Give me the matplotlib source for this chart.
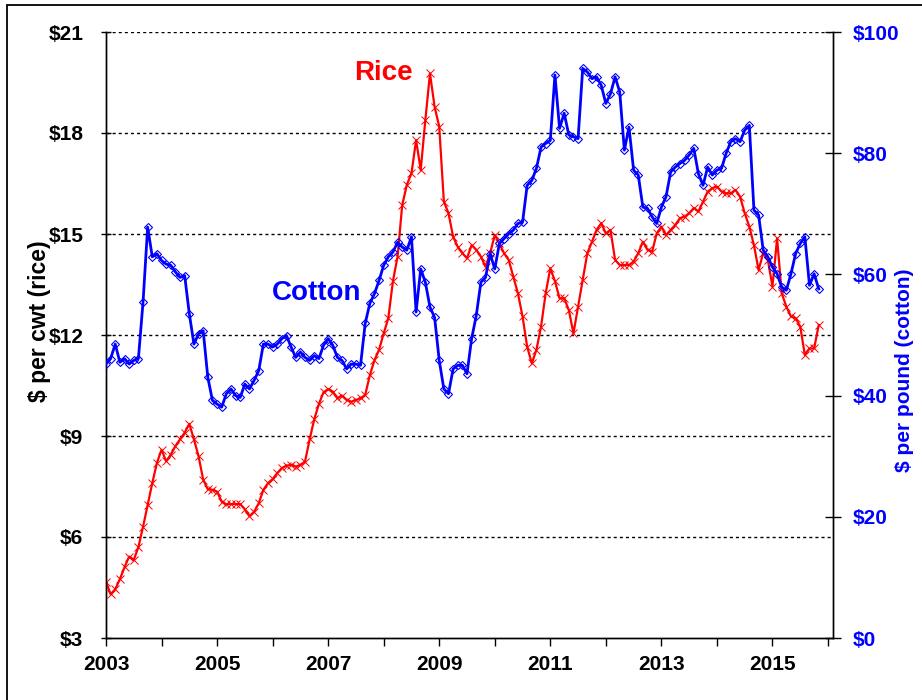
import numpy as np
import matplotlib
matplotlib.use("Agg")
import matplotlib.pyplot as plt
from matplotlib.patches import Rectangle

# monthly series, Jan 2003 onward
start_year = 2003
rice_cwt = [
    4.67, 4.30, 4.45, 4.75, 5.10, 5.42, 5.32, 5.70, 6.30, 6.95, 7.60, 8.20,
    8.59, 8.25, 8.45, 8.70, 8.90, 9.10, 9.36, 8.90, 8.40, 7.70, 7.42, 7.40,
    7.35, 7.05, 6.97, 6.98, 6.98, 6.98, 6.82, 6.62, 6.75, 7.00, 7.40, 7.60,
    7.72, 7.90, 8.05, 8.12, 8.14, 8.09, 8.14, 8.24, 8.90, 9.50, 9.95, 10.30,
    10.39, 10.32, 10.12, 10.20, 10.07, 10.02, 10.07, 10.12, 10.22, 10.80, 11.25, 11.56,
    12.05, 12.50, 13.60, 14.33, 15.86, 16.46, 16.80, 17.79, 16.90, 18.39, 19.77, 18.78,
    18.19, 15.96, 15.62, 14.92, 14.62, 14.43, 14.28, 14.67, 14.53, 14.33, 14.03, 14.43,
    14.97, 14.72, 14.43, 14.23, 13.73, 13.24, 12.55, 11.65, 11.16, 11.56, 12.25, 13.24,
    13.98, 13.60, 13.09, 13.09, 12.74, 12.05, 12.84, 13.63,
    14.43, 14.77, 15.12, 15.32, 15.02, 15.12, 14.23, 14.08, 14.08, 14.08, 14.18, 14.43,
    14.77, 14.53, 14.48, 15.02, 15.22, 14.97, 15.12, 15.27, 15.47, 15.51, 15.62, 15.77,
    15.67, 15.96, 16.26, 16.36, 16.41, 16.26, 16.21, 16.21, 16.31, 16.11, 15.62, 15.22,
    14.67, 13.93, 14.43, 14.23, 13.44, 14.87, 13.24, 12.84, 12.55, 12.50, 12.25, 11.41,
    11.60, 11.60, 12.30,
]
cotton_lb = [
    45.2, 46.1, 48.5, 45.5, 46.1, 45.2, 45.8, 46.1, 55.4, 67.8, 62.9, 63.4,
    62.3, 61.7, 61.5, 60.4, 59.5, 59.8, 53.5, 48.5, 50.2, 50.7, 43.0, 39.2,
    38.6, 38.1, 40.3, 41.1, 40.0, 39.7, 41.9, 41.1, 42.5, 44.1, 48.5, 48.5,
    48.0, 48.5, 49.4, 49.9, 48.0, 46.3, 47.2, 46.3, 45.8, 46.6, 46.1, 48.3,
    49.4, 48.3, 46.3, 45.8, 44.4, 45.2, 45.2, 45.0, 51.9, 55.2, 56.8, 59.0,
    61.5, 62.9, 63.7, 65.3, 64.5, 64.0, 66.2, 53.8, 60.9, 58.7, 54.6, 52.9,
    45.8, 41.1, 40.3, 44.4, 45.0, 45.0, 43.6, 49.4, 53.2, 58.7, 59.5, 63.4,
    60.9, 65.1, 65.9, 66.7, 67.3, 68.4, 68.6, 74.7, 75.5, 77.5, 81.0, 81.6,
    82.1, 92.9, 84.1, 86.6, 83.0, 82.7, 82.4, 94.0, 93.4, 92.3, 92.6, 91.2,
    88.2, 89.8, 92.6, 90.1, 80.5, 84.3, 77.2, 76.4, 71.1, 70.9, 69.5, 68.4,
    71.1, 72.8, 76.9, 77.7, 78.3, 78.8, 79.7, 80.8, 76.6, 74.7, 77.7, 76.4,
    77.2, 77.5, 80.0, 81.9, 82.4, 81.9, 83.8, 84.6, 70.6, 69.8, 64.0, 62.9,
    61.2, 60.1, 57.9, 57.4, 60.1, 63.4, 65.1, 66.2, 58.2, 60.1, 57.6,
]
rice_ticks = [3, 6, 9, 12, 15, 18, 21]
cotton_ticks = [0, 20, 40, 60, 80, 100]
year_ticks = list(range(2003, 2017))

plt.rcParams['font.family'] = ['Liberation Sans', 'DejaVu Sans']
plt.rcParams['font.weight'] = 'bold'

RED = '#ff0000'
BLUE = '#0000ff'

x_rice = start_year + np.arange(len(rice_cwt)) / 12.0
x_cot = start_year + np.arange(len(cotton_lb)) / 12.0

fig = plt.figure(figsize=(9.22, 7.0), dpi=100)
ax = fig.add_axes([106 / 922, 1 - 638 / 700, (833 - 106) / 922, (638 - 32) / 700])
ax2 = ax.twinx()

# outer frame
fig.patches.append(Rectangle((7 / 922, -0.05), 1.2, 1 - 5 / 700 + 0.05,
                             transform=fig.transFigure, fill=False,
                             edgecolor='black', linewidth=1.3, clip_on=False))

ax.set_ylim(3, 21)
ax.set_xlim(2003, 2016.09)
ax.set_yticks(rice_ticks)
ax.set_yticklabels([f'${v}' for v in rice_ticks])
for v in rice_ticks[1:]:
    ax.axhline(v, color='black', linewidth=1.0, linestyle=(0, (2.2, 2.2)), zorder=1)

ax.set_xticks(year_ticks)
ax.set_xticklabels([str(y) if y % 2 == 1 else '' for y in year_ticks])

ax.plot(x_rice, rice_cwt, color=RED, linewidth=1.6, marker='x',
        markersize=6, markeredgewidth=0.7, zorder=3)

ax2.set_ylim(0, 100)
ax2.set_yticks(cotton_ticks)
ax2.set_yticklabels([f'${v}' for v in cotton_ticks])
ax2.plot(x_cot, cotton_lb, color=BLUE, linewidth=2.0, marker='D',
         markersize=4.3, markerfacecolor='none', markeredgecolor=BLUE,
         markeredgewidth=0.8, zorder=3)

for a in (ax, ax2):
    a.spines['top'].set_visible(False)
    for s in a.spines.values():
        s.set_linewidth(1.0)

ax.tick_params(axis='y', direction='inout', length=7.5, width=1.0, pad=12.5,
               labelsize=15)
ax.tick_params(axis='x', direction='out', length=6, width=1.0, pad=6,
               labelsize=15)
ax2.tick_params(axis='y', direction='inout', length=11.5, width=1.0, pad=8.6,
                labelsize=15, labelcolor=BLUE)

ax.set_ylabel('$ per cwt (rice)', fontsize=16.5, fontweight='bold')
ax.yaxis.set_label_coords(51 / 922, 1 - 321 / 700, transform=fig.transFigure)
ax2.set_ylabel('$ per pound (cotton)', fontsize=15, fontweight='bold',
               color=BLUE, rotation=90)
ax2.yaxis.set_label_coords(895 / 922, 1 - 370 / 700, transform=fig.transFigure)

ax.text(2007.99, 19.79, 'Rice', color=RED, fontsize=20, fontweight='bold',
        ha='center', va='center')
ax.text(2006.80, 13.25, 'Cotton', color=BLUE, fontsize=20, fontweight='bold',
        ha='center', va='center')

fig.savefig('out.png', dpi=100)
